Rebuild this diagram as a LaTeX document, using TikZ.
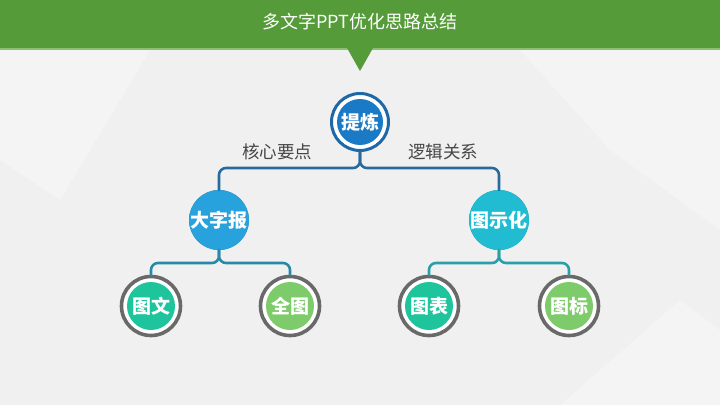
\documentclass[tikz,border=0pt]{standalone}
\usepackage{fontspec}
\newfontfamily\cjk{Noto Sans CJK SC}
\usetikzlibrary{calc}
\definecolor{hdr}{RGB}{86,155,58}
\definecolor{hdrline}{RGB}{140,192,110}
\definecolor{bg}{RGB}{240,240,240}
\definecolor{bgl}{RGB}{244,244,244}
\definecolor{ringA}{RGB}{30,104,168}
\definecolor{fillA}{RGB}{27,122,198}
\definecolor{ringB}{RGB}{30,120,168}
\definecolor{fillB}{RGB}{40,162,220}
\definecolor{ringC}{RGB}{26,148,168}
\definecolor{fillC}{RGB}{34,188,210}
\definecolor{ringG}{RGB}{105,105,105}
\definecolor{fillT}{RGB}{30,196,156}
\definecolor{fillL}{RGB}{125,203,106}
\definecolor{connA}{RGB}{40,106,156}
\definecolor{connB}{RGB}{40,136,168}
\definecolor{connC}{RGB}{40,160,170}
\definecolor{lbl}{RGB}{70,70,70}
\tikzset{
  outerring/.style={circle,minimum size=#1,inner sep=0pt,fill=white,line width=3pt},
  innerdisc/.style={circle,minimum size=#1,inner sep=0pt,text=white,font=\cjk\bfseries\fontsize{19}{19}\selectfont},
  conn/.style={line width=2.6pt,rounded corners=7pt,line cap=round},
  lbltext/.style={font=\cjk\fontsize{17.5}{17.5}\selectfont,text=lbl,inner sep=0pt},
}
\begin{document}
\begin{tikzpicture}[x=1pt,y=-1pt]
\useasboundingbox (0,0) rectangle (720,405);
% background
\fill[bg] (0,0) rectangle (720,405);
\fill[bgl] (0,50) -- (150,50) -- (60,200) -- (0,160) -- cycle;
\fill[bgl] (520,50) -- (720,50) -- (720,230) -- (610,150) -- cycle;
\fill[bgl] (560,405) -- (680,300) -- (720,330) -- (720,405) -- cycle;
% header
\fill[hdr] (0,0) rectangle (720,48);
\fill[hdrline] (0,48) rectangle (720,50);
\fill[hdr] (347,48) -- (373,48) -- (360,71) -- cycle;
\node[font=\cjk\fontsize{18}{18}\selectfont,text=white] (title) at (360,22) {多文字PPT优化思路总结};

% nodes
\node[outerring=57pt,draw=ringA] (t) at (360,122) {};
\node[innerdisc=46pt,fill=fillA] (tin) at (t) {提炼};
\node[outerring=57pt,draw=ringB] (l) at (219,220) {};
\node[innerdisc=46pt,fill=fillB] (lin) at (l) {大字报};
\node[outerring=57pt,draw=ringC] (r) at (499,220) {};
\node[innerdisc=46pt,fill=fillC] (rin) at (r) {图示化};
\node[outerring=59pt,draw=ringG,line width=3.6pt] (a) at (151,306) {};
\node[innerdisc=48pt,fill=fillT] (ain) at (a) {图文};
\node[outerring=59pt,draw=ringG,line width=3.6pt] (b) at (290,306) {};
\node[innerdisc=48pt,fill=fillL] (bin) at (b) {全图};
\node[outerring=59pt,draw=ringG,line width=3.6pt] (c) at (429,306) {};
\node[innerdisc=48pt,fill=fillT] (cin) at (c) {图表};
\node[outerring=59pt,draw=ringG,line width=3.6pt] (d) at (569,306) {};
\node[innerdisc=48pt,fill=fillL] (din) at (d) {图标};

% connectors
\coordinate (tc) at ($(t.south)+(0,16)$);
\draw[conn,connA] (l.north) |- (tc) -- (t.south);
\draw[conn,connA] (r.north) |- (tc) -- (t.south);
\coordinate (lc) at ($(l.south)+(0,13)$);
\draw[conn,connB] (a.north) |- (lc) -- (l.south);
\draw[conn,connB] (b.north) |- (lc) -- (l.south);
\coordinate (rc) at ($(r.south)+(0,13)$);
\draw[conn,connC] (c.north) |- (rc) -- (r.south);
\draw[conn,connC] (d.north) |- (rc) -- (r.south);

% labels
\node[lbltext] (k1) at (277,152) {核心要点};
\node[lbltext] (k2) at (443,152) {逻辑关系};
\end{tikzpicture}
\end{document}
